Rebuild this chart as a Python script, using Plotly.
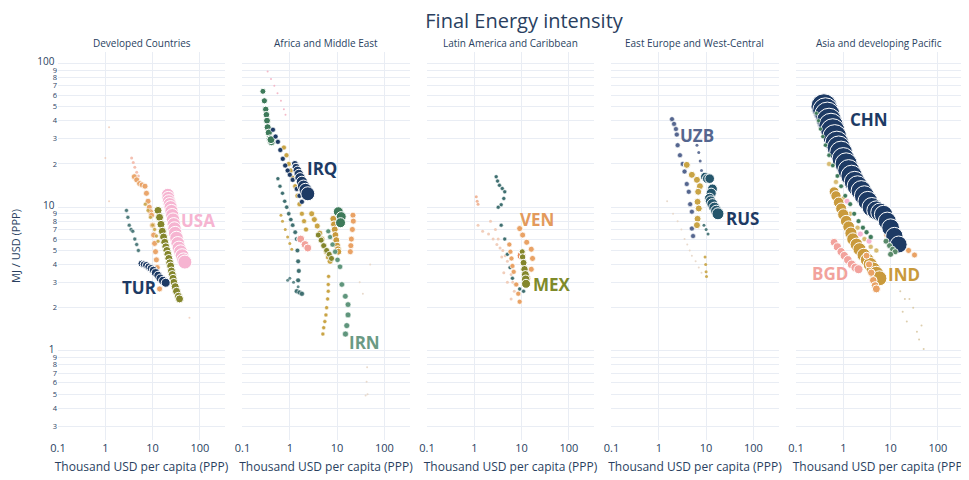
import numpy as np
import plotly.graph_objects as go
from plotly.subplots import make_subplots

# ---------------- data ----------------
regions = ["Developed Countries", "Africa and Middle East", "Latin America and Caribbean",
           "East Europe and West-Central", "Asia and developing Pacific"]
x_tick_vals = [0.1, 1, 10, 100]
x_tick_text = ["0.1", "1", "10", "100"]

# Developed Countries
dev_faint_x = [1.2, 1.0, 1.2, 60]
dev_faint_y = [36, 22, 11, 1.7]
dev_teal_x = [2.8, 3.0, 3.2, 3.5, 3.8, 4.2, 4.6, 5.0]
dev_teal_y = [9.5, 8.5, 7.5, 7.0, 6.8, 6.0, 5.5, 5.0]
dev_pale_x = [3.6, 3.9, 4.2, 4.6, 5.0]
dev_pale_y = [22, 20.5, 19, 17.5, 16.5]
dev_orange_x = [4.1, 4.6, 5.3, 6.0, 6.9, 7.4, 8.0, 8.5, 9.0, 9.5, 10, 10.5, 11, 11.5, 12, 12.5, 13, 14]
dev_orange_y = [16.3, 15.5, 14.6, 14.3, 14, 12.5, 11, 10, 9.3, 8.8, 7.5, 6.4, 5.6, 4.9, 4.3, 3.8, 3.4, 2.7]
dev_gold_x = [7, 8, 9, 10, 11, 12, 13]
dev_gold_y = [10.5, 9.5, 8.5, 7.5, 7, 6.3, 5.8]
dev_olive_x = [13, 14, 15, 16, 17, 18, 19, 20, 21, 22, 23, 24, 25, 26, 27, 28, 30, 32, 35, 37]
dev_olive_y = [9.5, 8.5, 7.6, 6.8, 6.2, 5.7, 5.3, 5.0, 4.7, 4.4, 4.1, 3.9, 3.6, 3.4, 3.2, 3.0, 2.8, 2.6, 2.4, 2.3]
usa_x = [21, 21.5, 22, 23, 24, 25, 26, 27, 28, 29, 30, 32, 34, 36, 39, 42, 45, 48]
usa_y = [12.2, 11.6, 11, 10.5, 10, 9.4, 8.8, 8.2, 7.6, 7.1, 6.6, 6.1, 5.6, 5.2, 4.9, 4.6, 4.3, 4.15]
tur_x = [5.8, 6.5, 7.3, 8.2, 9.2, 10.3, 11.5, 13, 14.5, 16.5, 18.9]
tur_y = [4.05, 4.0, 3.95, 3.85, 3.75, 3.65, 3.5, 3.35, 3.2, 3.08, 2.98]

# Africa and Middle East
afr_pink_x = [0.34, 0.4, 0.47, 0.55, 0.65, 0.75, 0.81]
afr_pink_y = [88, 78, 70, 62, 55, 48, 44]
afr_green_x = [0.27, 0.29, 0.31, 0.32, 0.33, 0.34, 0.36, 0.38, 0.41, 0.40]
afr_green_y = [64, 55, 48, 44, 40, 36, 33, 30, 28.5, 29.5]
afr_navy_x = [0.44, 0.5, 0.56, 0.63, 0.71, 0.8, 0.9, 1.0, 1.15, 1.4, 1.6, 1.8]
afr_navy_y = [34.6, 31, 28.5, 25, 21.7, 19.5, 18, 16.8, 15.5, 13.4, 12, 10.9]
afr_gold1_x = [0.75, 0.85, 0.95, 1.05, 1.15, 1.3, 1.45, 1.6, 1.8, 2.0, 2.2]
afr_gold1_y = [26, 23, 20, 18, 16, 14, 12, 10.5, 9, 8, 7]
afr_teal_x = [0.56, 0.62, 0.7, 0.78, 0.86, 0.95, 1.05, 1.15, 1.3, 1.4, 1.45, 1.5, 1.55, 1.5, 1.4, 1.6, 1.8]
afr_teal_y = [15.8, 14, 12.5, 11, 10, 9, 8.2, 7.5, 6.7, 6, 5, 4.2, 3.6, 3.1, 2.6, 2.55, 2.5]
afr_ltgold_x = [0.65, 0.7, 0.8, 0.9, 1.0, 1.1]
afr_ltgold_y = [8.8, 8, 7, 6.2, 5.6, 5.1]
afr_gold2_x = [2.9, 3.3, 3.8, 4.3, 4.8, 5.3, 5.9, 6.5, 7.1]
afr_gold2_y = [9, 8.2, 7.4, 6.6, 6, 5.4, 4.9, 4.5, 4.2]
afr_olive_x = [4, 4.6, 5.2, 6, 6.8, 7.6]
afr_olive_y = [6.4, 5.9, 5.4, 5, 4.7, 4.4]
afr_salmon_x = [1.7, 2.1, 2.4]
afr_salmon_y = [6, 5.5, 5.2]
afr_gold3_x = [8.3, 8.6, 8.9, 9.2, 9.6, 10, 10.4, 10.6]
afr_gold3_y = [8.3, 7.6, 7.0, 6.4, 5.9, 5.4, 5.1, 4.9]
afr_green2_x = [10.6, 12.2, 11.8]
afr_green2_y = [9.3, 8.6, 7.8]
afr_orange_x = [21.6, 22, 21, 20, 19.5, 19]
afr_orange_y = [8.8, 8, 7, 6, 5.4, 4.9]
afr_vert_x = [6.6, 6.5, 6.5, 6.3, 6.0, 5.8, 5.5, 5.2, 5.0]
afr_vert_y = [3.3, 2.9, 2.6, 2.3, 2.0, 1.78, 1.6, 1.45, 1.31]
afr_left_x = [1.0, 1.2, 1.5, 0.9]
afr_left_y = [3.2, 3.0, 2.8, 3.1]
afr_faint_x = [43, 42, 40, 44, 30, 50, 35]
afr_faint_y = [0.77, 0.61, 0.49, 0.5, 3, 4, 2.5]
irn_x = [6.5, 7.1, 8, 9.1, 10.2, 11.5, 12.6, 14.9, 17, 17, 16, 15]
irn_y = [6.8, 6.2, 5.5, 4.9, 4.3, 3.85, 2.9, 2.4, 2.1, 1.78, 1.5, 1.31]
irq_x = [1.28, 1.35, 1.45, 1.55, 1.65, 1.8, 1.95, 2.15, 2.4]
irq_y = [20, 19, 18, 17, 16, 15, 14, 13.2, 12.4]

# Latin America and Caribbean
lat_pale_x = [1.2, 1.5, 2, 2.5, 3, 3.5, 4, 4.5, 5, 5.5, 6, 6.5, 7, 2.2, 2.8, 3.2, 3.8, 4.2, 5, 6]
lat_pale_y = [7.5, 6.8, 6.5, 6, 5.5, 5.2, 5, 4.6, 4.2, 3.8, 3.4, 3, 2.6, 8, 7, 6, 4.5, 3.5, 3.0, 2.3]
lat_tiny_x = [1.1, 1.15, 1.2]
lat_tiny_y = [11.8, 11, 10.5]
lat_teal_x = [2.9, 3.1, 3.4, 3.9, 4.4, 4.2, 3.7, 3.2]
lat_teal_y = [16.3, 15.2, 14.2, 13.5, 12.8, 11.5, 10.4, 10]
lat_teal2_x = [3.7, 4.4, 5, 5.7, 6.4, 7.5, 9.1, 11]
lat_teal2_y = [7.5, 6, 4.7, 3.8, 3.2, 2.9, 2.7, 2.6]
lat_orange_x = [5.5, 5.8, 6.1, 6.4, 6.8, 7.7, 8.5, 9.1]
lat_orange_y = [5.5, 4.9, 4.4, 3.9, 3.55, 2.9, 2.5, 2.2]
ven_x = [9.1, 10.5, 12.8, 16, 17, 16, 13.5]
ven_y = [7.1, 6.4, 5.7, 5.1, 4.4, 3.7, 3.2]
lat_red_x = [10]
lat_red_y = [4.6]
mex_x = [10.3, 10.5, 11, 11.5, 12, 12.2, 12.4]
mex_y = [4.9, 4.5, 4.1, 3.7, 3.4, 3.15, 2.93]

# East Europe and West-Central
eu_pale_x = [1.5, 2, 2.5, 3, 3.5, 4, 4.5, 5, 6, 7, 8]
eu_pale_y = [11, 9, 8, 7, 6, 5.5, 5, 4.6, 4.2, 3.8, 3.5]
eu_navy_x = [6.4, 7, 7.5, 8]
eu_navy_y = [27, 24, 21, 18]
eu_gold_x = [3.9, 5, 6.4, 7.4, 6.8, 6.6, 7, 6.6, 6.4]
eu_gold_y = [19.7, 16.8, 15.5, 14, 12.8, 10.9, 9.8, 8.3, 7.5]
eu_gold2_x = [9.5, 9.8, 10, 10.2]
eu_gold2_y = [4.5, 4, 3.55, 3.3]
eu_teal_x = [9, 10, 11]
eu_teal_y = [7.5, 7, 6.5]
uzb_x = [1.9, 2.1, 2.3, 2.4, 2.5, 2.8, 3.2, 3.5, 3.9, 4.3, 4.6, 5.0, 5.0, 5.3]
uzb_y = [41, 38, 35, 32, 27, 23, 20, 17.7, 14.5, 12.8, 10.5, 9.3, 7.1, 6.3]
rus_x = [9.5, 10.5, 11.9, 13.6, 12.8, 11.9, 12.5, 13.6, 15, 16.5, 17.8]
rus_y = [16.3, 15.8, 15.8, 13.4, 12.5, 11.5, 11, 10.5, 9.9, 9.4, 9.0]

# Asia and developing Pacific
asia_faint_x = [16, 20, 25, 30, 18, 22, 36, 40, 50, 45]
asia_faint_y = [2.6, 2.3, 2.3, 2.0, 1.87, 1.6, 1.36, 1.2, 1.03, 1.5]
asia_gold_x = [0.5, 0.7, 1.0, 1.4, 2.0, 2.8, 3.8, 5.0]
asia_gold_y = [20, 15, 11.5, 9, 7.2, 6, 5.3, 5]
asia_orange_x = [3.1, 3.5, 3.9, 4.3, 4.7, 5.0]
asia_orange_y = [4.6, 4.0, 3.5, 3.1, 2.85, 2.7]
asia_orange2_x = [8.3, 11, 14, 19, 24, 32]
asia_orange2_y = [6.4, 6.2, 6.0, 5.5, 5.0, 4.65]
bgd_x = [0.64, 0.75, 0.9, 1.05, 1.25, 1.5, 1.8, 2.1]
bgd_y = [5.7, 5.3, 4.9, 4.6, 4.3, 4.0, 3.8, 3.7]
ind_x = [0.64, 0.7, 0.8, 0.9, 1.0, 1.15, 1.3, 1.45, 1.6, 1.9, 2.2, 2.7, 3.2, 3.7, 4.3, 5.0, 5.8]
ind_y = [12.8, 12, 10.8, 9.8, 8.9, 8, 7.3, 6.6, 6.0, 5.5, 5.1, 4.65, 4.3, 4.0, 3.7, 3.45, 3.2]
chn_x = [0.39, 0.42, 0.46, 0.5, 0.55, 0.6, 0.66, 0.73, 0.8, 0.9, 1.0, 1.15, 1.3, 1.5, 1.75, 2.0,
         2.4, 2.8, 3.3, 4, 5, 6, 7.1, 8.5, 10, 12, 14.8]
chn_y = [50, 47, 44, 40, 37, 34, 31, 28, 26, 24, 21.7, 20, 18, 16.5, 15, 14, 13, 12, 11, 10,
         9.5, 9.2, 8.9, 8, 7.2, 6.3, 5.5]
asia_green_x = [0.27, 0.3, 0.33, 0.37, 0.42, 0.5, 0.6, 0.75, 0.9, 1.1, 1.4, 1.7, 2.1, 2.6, 3.1, 3.8]
asia_green_y = [45, 40, 35, 31, 27, 23, 19.5, 16.5, 14, 12, 10.5, 9, 8, 7.2, 6.7, 6.2]
asia_pink_x = [1.2, 2.3, 3.5]
asia_pink_y = [11, 6.5, 5.8]
asia_green2_x = [8, 9.5, 11, 12.5, 10]
asia_green2_y = [5.8, 5.4, 5.1, 4.9, 4.7]

# ---------------- styles ----------------
C = dict(navy="#1d3a64", pink="#f6b4d1", olive="#84862c", orange="#e9a265", teal="#3f6f70",
         green="#3e7a5a", gold="#c9a445", sage="#5f957c", slate="#55668f", rus="#25566c",
         salmon="#f2a29c", indg="#c99a3c", pale="#efc9b4", faint="#e7d6c6")

# (col, key, x, y, color, size_start, size_end, opacity, line_width)
series = [
    (1, "dev_faint", dev_faint_x, dev_faint_y, C["pale"], 2, 2, 0.8, 0),
    (1, "dev_teal", dev_teal_x, dev_teal_y, C["teal"], 4, 4, 0.9, 0.5),
    (1, "dev_pale", dev_pale_x, dev_pale_y, "#f3b9a8", 3, 3, 0.9, 0),
    (1, "dev_orange", dev_orange_x, dev_orange_y, C["orange"], 6, 6, 0.95, 0.8),
    (1, "dev_gold", dev_gold_x, dev_gold_y, C["gold"], 4, 4, 0.9, 0.5),
    (1, "dev_olive", dev_olive_x, dev_olive_y, C["olive"], 8, 8, 1, 1),
    (1, "tur", tur_x, tur_y, C["navy"], 7, 9, 1, 1),
    (1, "usa", usa_x, usa_y, C["pink"], 13, 14, 1, 1),
    (2, "afr_pink", afr_pink_x, afr_pink_y, "#f3b3c3", 2, 2, 0.9, 0),
    (2, "afr_faint", afr_faint_x, afr_faint_y, C["faint"], 2, 2, 0.9, 0),
    (2, "afr_left", afr_left_x, afr_left_y, C["teal"], 3, 3, 0.8, 0),
    (2, "afr_ltgold", afr_ltgold_x, afr_ltgold_y, C["gold"], 3, 3, 0.9, 0),
    (2, "afr_teal", afr_teal_x, afr_teal_y, C["teal"], 4, 5, 1, 0.5),
    (2, "afr_gold1", afr_gold1_x, afr_gold1_y, C["gold"], 5, 5, 1, 0.6),
    (2, "afr_green", afr_green_x, afr_green_y, C["green"], 6, 8, 1, 1),
    (2, "afr_navy", afr_navy_x, afr_navy_y, C["navy"], 5, 5, 1, 0.6),
    (2, "afr_gold2", afr_gold2_x, afr_gold2_y, C["gold"], 6, 6, 1, 0.8),
    (2, "afr_olive", afr_olive_x, afr_olive_y, C["olive"], 6, 6, 1, 0.8),
    (2, "afr_salmon", afr_salmon_x, afr_salmon_y, C["salmon"], 8, 8, 1, 1),
    (2, "afr_vert", afr_vert_x, afr_vert_y, C["gold"], 4, 4, 1, 0.5),
    (2, "afr_gold3", afr_gold3_x, afr_gold3_y, C["indg"], 7, 7, 1, 1),
    (2, "afr_orange", afr_orange_x, afr_orange_y, C["orange"], 6, 6, 1, 0.8),
    (2, "afr_green2", afr_green2_x, afr_green2_y, C["green"], 10, 10, 1, 1),
    (2, "irn", irn_x, irn_y, C["sage"], 5, 6, 1, 0.6),
    (2, "irq", irq_x, irq_y, C["navy"], 7, 14, 1, 1),
    (3, "lat_pale", lat_pale_x, lat_pale_y, C["pale"], 3, 3, 0.9, 0),
    (3, "lat_tiny", lat_tiny_x, lat_tiny_y, "#f0b090", 3, 3, 0.9, 0),
    (3, "lat_teal", lat_teal_x, lat_teal_y, C["teal"], 4, 4, 1, 0.5),
    (3, "lat_teal2", lat_teal2_x, lat_teal2_y, C["teal"], 4, 4, 1, 0.5),
    (3, "lat_orange", lat_orange_x, lat_orange_y, C["orange"], 5, 5, 1, 0.6),
    (3, "ven", ven_x, ven_y, C["orange"], 6, 6, 1, 0.8),
    (3, "lat_red", lat_red_x, lat_red_y, "#e88a5c", 9, 9, 1, 1),
    (3, "mex", mex_x, mex_y, C["olive"], 6, 9, 1, 1),
    (4, "eu_pale", eu_pale_x, eu_pale_y, C["faint"], 2, 2, 0.9, 0),
    (4, "eu_navy", eu_navy_x, eu_navy_y, C["slate"], 3, 3, 0.9, 0),
    (4, "eu_gold2", eu_gold2_x, eu_gold2_y, C["gold"], 3, 3, 0.9, 0),
    (4, "eu_teal", eu_teal_x, eu_teal_y, C["teal"], 3, 3, 0.9, 0),
    (4, "uzb", uzb_x, uzb_y, C["slate"], 5, 5, 1, 0.6),
    (4, "eu_gold", eu_gold_x, eu_gold_y, C["gold"], 7, 7, 1, 1),
    (4, "rus", rus_x, rus_y, C["rus"], 9, 12, 1, 1),
    (5, "asia_faint", asia_faint_x, asia_faint_y, "#d9c9a4", 2, 2, 0.9, 0),
    (5, "asia_gold", asia_gold_x, asia_gold_y, "#d7bb72", 5, 5, 1, 0.5),
    (5, "bgd", bgd_x, bgd_y, C["salmon"], 8, 9, 1, 1),
    (5, "ind", ind_x, ind_y, C["indg"], 10, 15, 1, 1),
    (5, "asia_orange", asia_orange_x, asia_orange_y, C["orange"], 7, 8, 1, 1),
    (5, "asia_orange2", asia_orange2_x, asia_orange2_y, C["orange"], 6, 6, 1, 0.8),
    (5, "chn", chn_x, chn_y, C["navy"], 26, 17, 1, 1),
    (5, "asia_pink", asia_pink_x, asia_pink_y, C["pink"], 6, 6, 1, 0.8),
    (5, "asia_green", asia_green_x, asia_green_y, C["green"], 4, 5, 1, 0.5),
    (5, "asia_green2", asia_green2_x, asia_green2_y, "#5a8a6a", 6, 6, 1, 0.8),
]

# label: (text, col, x list, y list, point index, color, xanchor, xshift, yshift)
labels = [
    ("USA", 1, usa_x, usa_y, 4, "#f6b4d1", "left", 8, -13),
    ("TUR", 1, tur_x, tur_y, 10, "#1d3a64", "right", -7, -5),
    ("IRQ", 2, irq_x, irq_y, 0, "#1d3a64", "left", 10, -5),
    ("IRN", 2, irn_x, irn_y, 11, "#6b9a84", "left", 2, -8),
    ("VEN", 3, ven_x, ven_y, 0, "#e39a5c", "left", -2, 9),
    ("MEX", 3, mex_x, mex_y, 6, "#7e8a2a", "left", 5, -1),
    ("UZB", 4, uzb_x, uzb_y, 0, "#55668f", "left", 6, -16),
    ("RUS", 4, rus_x, rus_y, 10, "#1d3a64", "left", 6, -5),
    ("CHN", 5, chn_x, chn_y, 0, "#1d3a64", "left", 24, -13),
    ("IND", 5, ind_x, ind_y, 16, "#c99a3c", "left", 7, 4),
    ("BGD", 5, bgd_x, bgd_y, 7, "#f2a29c", "right", -9, -4),
]

# ---------------- figure ----------------
fig = make_subplots(rows=1, cols=5, shared_yaxes=True, horizontal_spacing=0.0193,
                    subplot_titles=regions)

for col, key, xs, ys, color, s0, s1, op, lw in series:
    sizes = np.linspace(s0, s1, len(xs))
    fig.add_trace(go.Scatter(
        x=xs, y=ys, mode="markers", name=key, showlegend=False,
        marker=dict(color=color, size=sizes, opacity=op,
                    line=dict(color="white", width=lw)),
        hoverinfo="skip"), row=1, col=col)

for text, col, xs, ys, idx, color, xa, xsft, ysft in labels:
    sfx = "" if col == 1 else str(col)
    fig.add_annotation(x=np.log10(xs[idx]), y=np.log10(ys[idx]), xref="x" + sfx, yref="y" + sfx,
                       text="<b>" + text + "</b>", showarrow=False, xanchor=xa, yanchor="middle",
                       xshift=xsft, yshift=ysft,
                       font=dict(family="Open Sans, Arial", size=17, color=color))

for i in range(1, 6):
    fig.update_xaxes(type="log", range=[-1, 2.53], tickvals=x_tick_vals, ticktext=x_tick_text,
                     showgrid=True, gridcolor="#e9edf4", zeroline=False, showline=False,
                     automargin=False,
                     tickfont=dict(size=11, color="#2a3f5f"),
                     title=dict(text="Thousand USD per capita (PPP)", font=dict(size=12, color="#2a3f5f"),
                                standoff=8),
                     row=1, col=i)
    fig.update_yaxes(type="log", range=[-0.62, 2.08], dtick="D1", showgrid=True,
                     gridcolor="#e9edf4", zeroline=False, showline=False, automargin=False,
                     row=1, col=i)

fig.update_yaxes(tickfont=dict(size=10, color="#2a3f5f"),
                 title=dict(text="MJ / USD (PPP)", font=dict(size=11, color="#2a3f5f"), standoff=14),
                 row=1, col=1)

for ann in fig.layout.annotations:
    if ann.text in regions:
        ann.font = dict(size=10, color="#2a3f5f")

fig.update_layout(
    width=969, height=480, template="plotly_white",
    font=dict(family="Open Sans, Arial", color="#2a3f5f"),
    title=dict(text="Final Energy intensity", x=0.515, xref="paper", y=0.972, yanchor="middle",
               font=dict(size=20, color="#2a3f5f")),
    margin=dict(l=50, r=14, t=44, b=48),
    plot_bgcolor="white", paper_bgcolor="white", showlegend=False,
)

fig.write_html("out.html")
